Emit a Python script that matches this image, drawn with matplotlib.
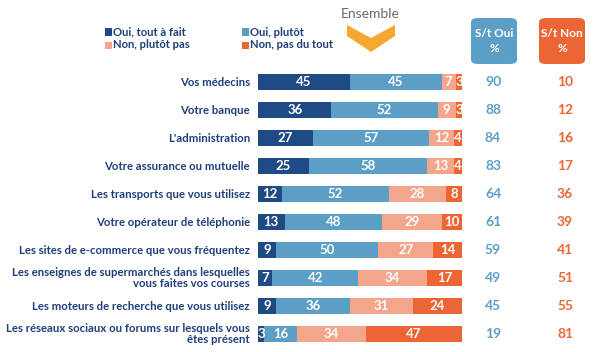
import matplotlib.pyplot as plt
from matplotlib.patches import FancyBboxPatch, Polygon, Rectangle
import numpy as np

plt.rcParams['font.family'] = ['Lato', 'DejaVu Sans']

categories = [
    "Vos médecins",
    "Votre banque",
    "L'administration",
    "Votre assurance ou mutuelle",
    "Les transports que vous utilisez",
    "Votre opérateur de téléphonie",
    "Les sites de e-commerce que vous fréquentez",
    "Les enseignes de supermarchés dans lesquelles\nvous faites vos courses",
    "Les moteurs de recherche que vous utilisez",
    "Les réseaux sociaux ou forums sur lesquels vous\nêtes présent",
]
oui_tout = [45, 36, 27, 25, 12, 13, 9, 7, 9, 3]
oui_plutot = [45, 52, 57, 58, 52, 48, 50, 42, 36, 16]
non_plutot = [7, 9, 12, 13, 28, 29, 27, 34, 31, 34]
non_pas = [3, 3, 4, 4, 8, 10, 14, 17, 24, 47]
st_oui = [90, 88, 84, 83, 64, 61, 59, 49, 45, 19]
st_non = [10, 12, 16, 17, 36, 39, 41, 51, 55, 81]
series_names = ["Oui, tout à fait", "Oui, plutôt", "Non, plutôt pas", "Non, pas du tout"]

colors = ["#1f4a86", "#5c9fc6", "#f3a68c", "#ec6535"]
navy = "#1f3f7a"

W, H = 600, 352
fig = plt.figure(figsize=(W / 100, H / 100), dpi=100)

def fx(px):
    return px / W

def fy(py):
    return 1 - py / H

# axes for bars: x 258..462 px, rows centred at 82 + 28*i
ax = fig.add_axes([fx(258), fy(348), fx(462) - fx(258), (348 - 68) / H])
ax.set_xlim(0, 100)
ax.set_ylim(len(categories) - 0.5, -0.5)
ax.axis('off')

y = np.arange(len(categories))
left = np.zeros(len(categories))
for vals, col in zip([oui_tout, oui_plutot, non_plutot, non_pas], colors):
    vals = np.array(vals, dtype=float)
    ax.barh(y, vals, left=left, height=0.54, color=col, edgecolor='none')
    for yi, l, v in zip(y, left, vals):
        ax.text(l + v / 2, yi, f"{int(v)}", ha='center', va='center',
                color='white', fontsize=9.5, fontweight='bold')
    left += vals

px_unit = 100 / (462 - 258)
for yi, cat in zip(y, categories):
    ax.text(-8 * px_unit, yi, cat, ha='right', va='center', color=navy,
            fontsize=8.2, fontweight='bold', linespacing=1.1, clip_on=False)
for yi, a, b in zip(y, st_oui, st_non):
    ax.text((493 - 258) * px_unit, yi, f"{a}", ha='center', va='center',
            color="#5c9fc6", fontsize=10, fontweight='bold', clip_on=False)
    ax.text((565 - 258) * px_unit, yi, f"{b}", ha='center', va='center',
            color="#ec6535", fontsize=10, fontweight='bold', clip_on=False)

# header boxes
for x0, col, lab in [(471, "#5c9fc6", "S/t Oui\n%"), (539, "#ec6535", "S/t Non\n%")]:
    box = FancyBboxPatch((fx(x0), fy(64)), fx(46), (64 - 18) / H,
                         boxstyle="round,pad=0,rounding_size=0.012",
                         transform=fig.transFigure, color=col, ec='none')
    fig.patches.append(box)
    fig.text(fx(x0 + 23), fy(41), lab, ha='center', va='center', color='white',
             fontsize=8.5, fontweight='bold', linespacing=1.5)

# legend
leg_pos = [(105, 32), (242, 32), (105, 45), (242, 45)]
for (lx, ly), name, col in zip(leg_pos, series_names, colors):
    fig.patches.append(Rectangle((fx(lx), fy(ly + 3.5)), fx(7), 7 / H,
                                 transform=fig.transFigure, color=col, ec='none'))
    fig.text(fx(lx + 8), fy(ly), name, ha='left', va='center', color=navy,
             fontsize=8.1, fontweight='bold')

# Ensemble + chevron
fig.text(fx(370), fy(14), "Ensemble", ha='center', va='center', color="#6b6b6b",
         fontsize=10)
chev = [(347, 25), (371, 38), (395, 25), (395, 36), (371, 52), (347, 36)]
fig.patches.append(Polygon([(fx(a), fy(b)) for a, b in chev], closed=True,
                           transform=fig.transFigure, color="#f6a732", ec='none'))

fig.savefig("out.png", dpi=100)
